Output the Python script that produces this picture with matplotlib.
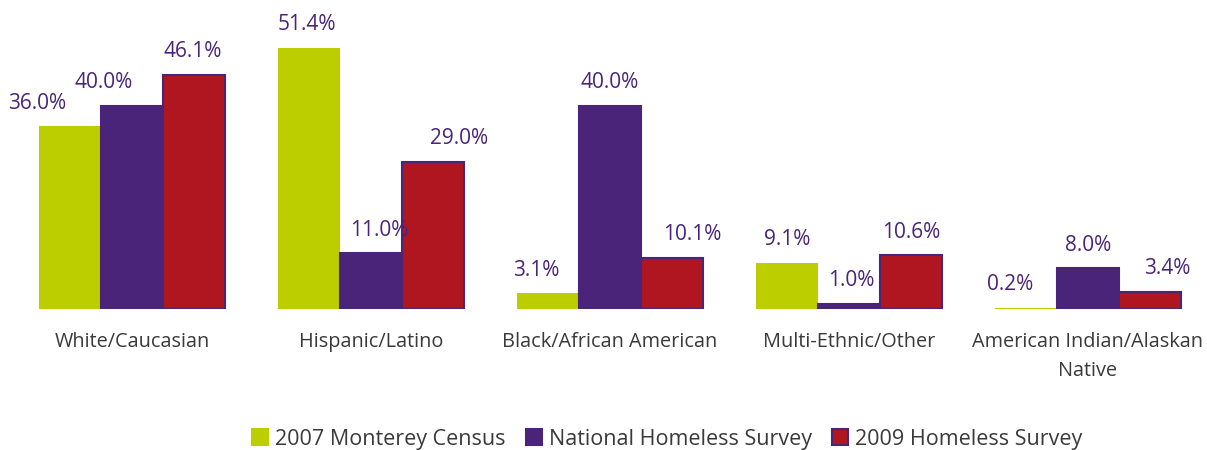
import numpy as np
import matplotlib.pyplot as plt
from matplotlib.lines import Line2D

plt.rcParams['font.family'] = ['Open Sans', 'DejaVu Sans']

# Share of homeless population by race/ethnicity (%)
categories = ['White/Caucasian', 'Hispanic/Latino', 'Black/African American',
              'Multi-Ethnic/Other', 'American Indian/Alaskan\nNative']
series_names = ['2007 Monterey Census', 'National Homeless Survey', '2009 Homeless Survey']
census_2007 = [36.0, 51.4, 3.1, 9.1, 0.2]
national_survey = [40.0, 11.0, 40.0, 1.0, 8.0]
survey_2009 = [46.1, 29.0, 10.1, 10.6, 3.4]

colors = ['#bccd00', '#4a2478', '#b01620']
edges = ['none', '#4a2478', '#4a2478']
label_color = '#4a2478'
text_color = '#3a3a3a'

# horizontal nudges (pixels) for the value labels, per series / category
label_dx = [[-33, -2, -12, 0, -16],
            [-28, 8, 0, 2, 0],
            [-1, 26, 20, 0, 17]]

fig = plt.figure(figsize=(12.07, 4.5), dpi=100)
ax = fig.add_axes([0, (450 - 309) / 450, 1, 309 / 450])

x = np.arange(len(categories))
width = 0.26
all_values = [census_2007, national_survey, survey_2009]
for i, vals in enumerate(all_values):
    pos = x + (i - 1) * width
    ax.bar(pos, vals, width, color=colors[i], edgecolor=edges[i],
           linewidth=1.5 if edges[i] != 'none' else 0)
    for j, (p, v) in enumerate(zip(pos, vals)):
        ax.annotate(f'{v:.1f}%', (p, v), xytext=(label_dx[i][j], 23),
                    textcoords='offset pixels', ha='center', va='center',
                    fontsize=15, color=label_color)

# category names under each group
for xi, name in zip(x, categories):
    ax.text(xi, -4.5, name, ha='center', va='top', fontsize=14.3,
            color=text_color, linespacing=1.6, clip_on=False)

ax.set_xlim(-0.552, 4.498)
ax.set_ylim(0, 309 / 5.08)
ax.axis('off')

handles = [Line2D([], [], marker='s', linestyle='none', markersize=11,
                  markerfacecolor=colors[i],
                  markeredgecolor=edges[i] if edges[i] != 'none' else colors[i],
                  markeredgewidth=1.5)
           for i in range(3)]
fig.legend(handles, series_names, loc='center', bbox_to_anchor=(667 / 1207, 1 - 439 / 450),
           ncol=3, frameon=False, fontsize=15.5, handletextpad=0.3, columnspacing=0.9,
           handlelength=0.8, labelcolor=text_color)

fig.savefig('out.png', dpi=100)
